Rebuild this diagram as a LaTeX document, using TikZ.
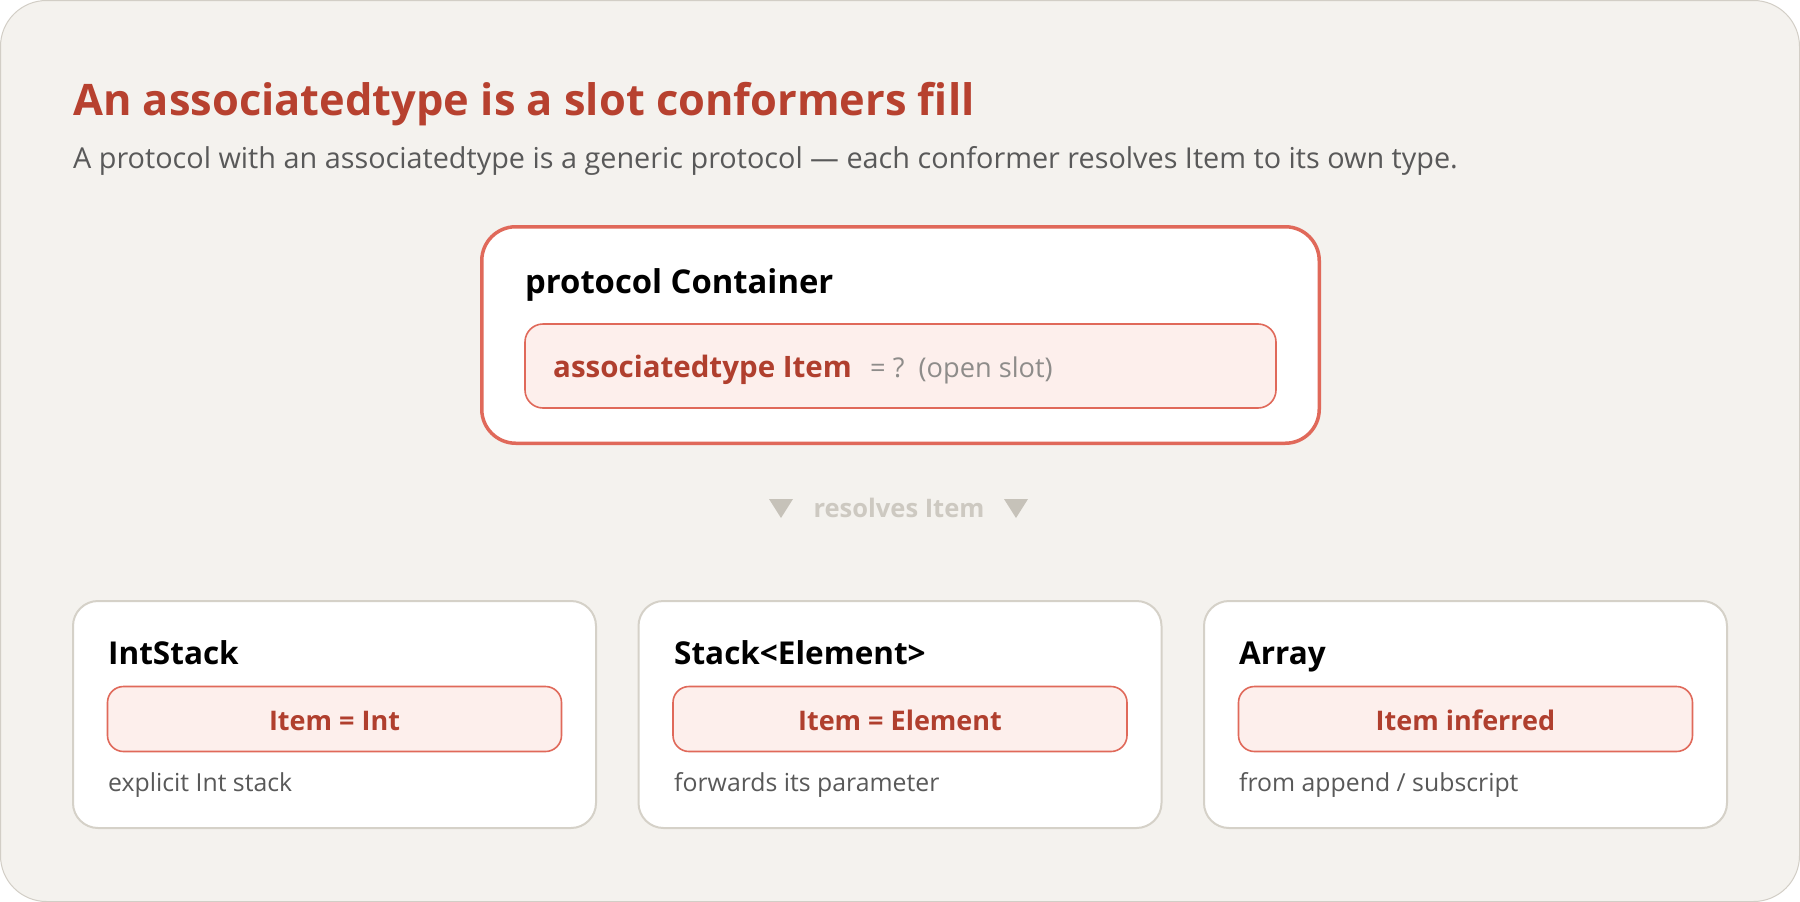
\documentclass[tikz,border=0pt]{standalone}
\usepackage{fontspec}
\setmainfont{Open Sans}
\definecolor{bgc}{HTML}{F4F2EE}
\definecolor{bgline}{HTML}{D2CEC6}
\definecolor{titlered}{HTML}{B7412F}
\definecolor{subgray}{HTML}{595959}
\definecolor{coral}{HTML}{E0695A}
\definecolor{pinkfill}{HTML}{FDEFEC}
\definecolor{pilltext}{HTML}{B03F2E}
\definecolor{cardline}{HTML}{D5D1C8}
\definecolor{slotgray}{HTML}{8E8C8A}
\definecolor{restext}{HTML}{CDC9C1}
\definecolor{restri}{HTML}{C6C2B9}
\tikzset{
  protobox/.style={draw=coral, line width=3.5pt, fill=white, rounded corners=34pt, inner sep=0pt},
  slotbox/.style={draw=coral, line width=1.6pt, fill=pinkfill, rounded corners=18pt, inner sep=0pt},
  cardbox/.style={draw=cardline, line width=2pt, fill=white, rounded corners=25pt, inner sep=0pt, minimum width=523pt, minimum height=227pt},
  pillbox/.style={draw=coral, line width=1.6pt, fill=pinkfill, rounded corners=16pt, inner sep=0pt, minimum width=454pt, minimum height=65pt},
  cardtitle/.style={anchor=base west, inner sep=0pt, font=\fontsize{31.5}{36}\selectfont\bfseries, text=black},
  pilllabel/.style={anchor=base, inner sep=0pt, font=\fontsize{27}{32}\selectfont\bfseries, text=pilltext},
  caption/.style={anchor=base west, inner sep=0pt, font=\fontsize{24.8}{28}\selectfont, text=subgray},
}
\begin{document}
\begin{tikzpicture}[x=1pt,y=-1pt]
\useasboundingbox (0,0) rectangle (1800,902);
\fill[white] (0,0) rectangle (1800,902);
\draw[fill=bgc, draw=bgline, line width=1pt, rounded corners=46pt] (0.5,0.5) rectangle (1799.5,901.5);

\node[anchor=base west, inner sep=0pt, font=\fontsize{43.4}{52}\selectfont\bfseries, text=titlered] (title) at (73,115) {An associatedtype is a slot conformers fill};
\node[anchor=base west, inner sep=0pt, font=\fontsize{28.8}{34}\selectfont, text=subgray] (subtitle) at (73,168) {A protocol with an associatedtype is a generic protocol — each conformer resolves Item to its own type.};

% protocol box
\node[protobox, minimum width=837.5pt, minimum height=216.5pt] (proto) at (900.5,335) {};
\node[cardtitle, font=\fontsize{32.8}{38}\selectfont\bfseries] (protoname) at (525,293) {protocol Container};
\node[slotbox, minimum width=751pt, minimum height=84pt] (slot) at (900.5,366) {};
\node[anchor=base west, inner sep=0pt, font=\fontsize{29.5}{34}\selectfont\bfseries, text=pilltext] (assoc) at (553,377) {associatedtype Item};
\node[anchor=base west, inner sep=0pt, font=\fontsize{27.2}{32}\selectfont, text=slotgray] (open) at (870,377) {= ?\ \ (open slot)};

% resolves
\node[anchor=base, inner sep=0pt, font=\fontsize{25.5}{30}\selectfont\bfseries, text=restext] (res) at (899,517) {resolves Item};
\coordinate (triL) at (781,499);
\coordinate (triR) at (1016,499);
\fill[restri] ([xshift=-12pt]triL) -- ([xshift=12pt]triL) -- ([yshift=-19pt]triL) -- cycle;
\fill[restri] ([xshift=-12pt]triR) -- ([xshift=12pt]triR) -- ([yshift=-19pt]triR) -- cycle;

% cards
\node[cardbox] (card1) at (334.5,714.5) {};
\node[cardbox] (card2) at (900,714.5) {};
\node[cardbox] (card3) at (1465.5,714.5) {};

\node[cardtitle] (t1) at (108,664) {IntStack};
\node[cardtitle] (t2) at (674,664) {Stack<Element>};
\node[cardtitle] (t3) at (1239,664) {Array};

\node[pillbox] (p1) at (334.5,719) {};
\node[pillbox] (p2) at (900,719) {};
\node[pillbox] (p3) at (1465.5,719) {};
\node[pilllabel] (l1) at (334.5,730) {Item = Int};
\node[pilllabel] (l2) at (900,730) {Item = Element};
\node[pilllabel] (l3) at (1465.5,730) {Item inferred};

\node[caption] (c1) at (108,791) {explicit Int stack};
\node[caption] (c2) at (674,791) {forwards its parameter};
\node[caption] (c3) at (1239,791) {from append / subscript};
\end{tikzpicture}
\end{document}
